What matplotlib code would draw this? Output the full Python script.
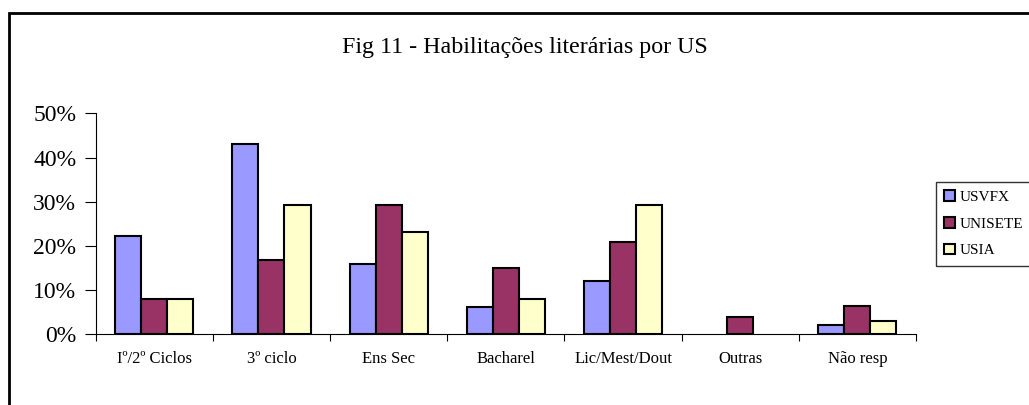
import numpy as np
import matplotlib.pyplot as plt
from matplotlib.patches import Rectangle
from matplotlib.ticker import FixedLocator, PercentFormatter

categories = ["I\u00ba/2\u00ba Ciclos", "3\u00ba ciclo", "Ens Sec", "Bacharel",
              "Lic/Mest/Dout", "Outras", "N\u00e3o resp"]
usvfx = [22.2, 43.1, 16.0, 6.2, 12.0, 0.0, 2.2]
unisete = [8.0, 16.8, 29.3, 15.1, 20.9, 4.0, 6.3]
usia = [8.0, 29.3, 23.1, 8.0, 29.3, 0.0, 3.1]
series = [("USVFX", usvfx, "#9999FF"),
          ("UNISETE", unisete, "#993366"),
          ("USIA", usia, "#FFFFCC")]

plt.rcParams['font.family'] = ['Liberation Serif', 'DejaVu Serif']

W, H = 1029, 405
fig = plt.figure(figsize=(W / 100, H / 100), dpi=100)

# outer chart frame (runs off the right and bottom edges)
fig.patches.append(Rectangle((9 / W, -0.1), 1.2, 1 - 13 / H + 0.1,
                             transform=fig.transFigure, fill=False,
                             edgecolor="black", linewidth=2))
# bits of text from the page above
fig.text(103 / W, 1 + 11 / H, "(", fontsize=16, va="baseline", ha="left")
fig.text(170 / W, 1 + 11 / H, ")", fontsize=16, va="baseline", ha="left")

fig.text(525 / W, 1 - 47 / H, "Fig 11 - Habilita\u00e7\u00f5es liter\u00e1rias por US",
         fontsize=17.3, ha="center", va="center")

ax = fig.add_axes([95.7 / W, 1 - 334.3 / H, (916 - 95.7) / W, (334.3 - 113.3) / H])

x = np.arange(len(categories))
width = 0.222
for i, (name, vals, col) in enumerate(series):
    lws = [1.5 if v > 0 else 0 for v in vals]
    ax.bar(x + (i - 1) * width, vals, width, color=col, edgecolor="black",
           linewidth=lws, label=name, zorder=3)

ax.set_xlim(-0.5, len(categories) - 0.5)
ax.set_ylim(0, 50)
ax.set_yticks(np.arange(0, 51, 10))
ax.yaxis.set_major_formatter(PercentFormatter(decimals=0))
ax.tick_params(axis="y", length=8, width=0.8, pad=6, labelsize=17)

ax.xaxis.set_major_locator(FixedLocator(np.arange(-0.5, len(categories))))
ax.xaxis.set_minor_locator(FixedLocator(x))
ax.set_xticklabels([], minor=False)
ax.set_xticklabels(categories, minor=True)
ax.tick_params(axis="x", which="major", direction="out", length=5, width=0.8)
ax.tick_params(axis="x", which="minor", length=0, pad=12, labelsize=12)

for s in ["top", "right"]:
    ax.spines[s].set_visible(False)
for s in ["left", "bottom"]:
    ax.spines[s].set_linewidth(0.8)
    ax.spines[s].set_zorder(4)

leg = fig.legend(loc="upper left", bbox_to_anchor=(936 / W, 1 - 182 / H),
                 frameon=True, fancybox=False, edgecolor="black",
                 fontsize=11, handlelength=0.7, handleheight=0.7,
                 handletextpad=0.3, labelspacing=0.85, borderpad=0.55,
                 borderaxespad=0)
leg.get_frame().set_linewidth(1.0)
for h in leg.legend_handles:
    h.set_linewidth(1.5)

fig.savefig("out.png", dpi=100)
